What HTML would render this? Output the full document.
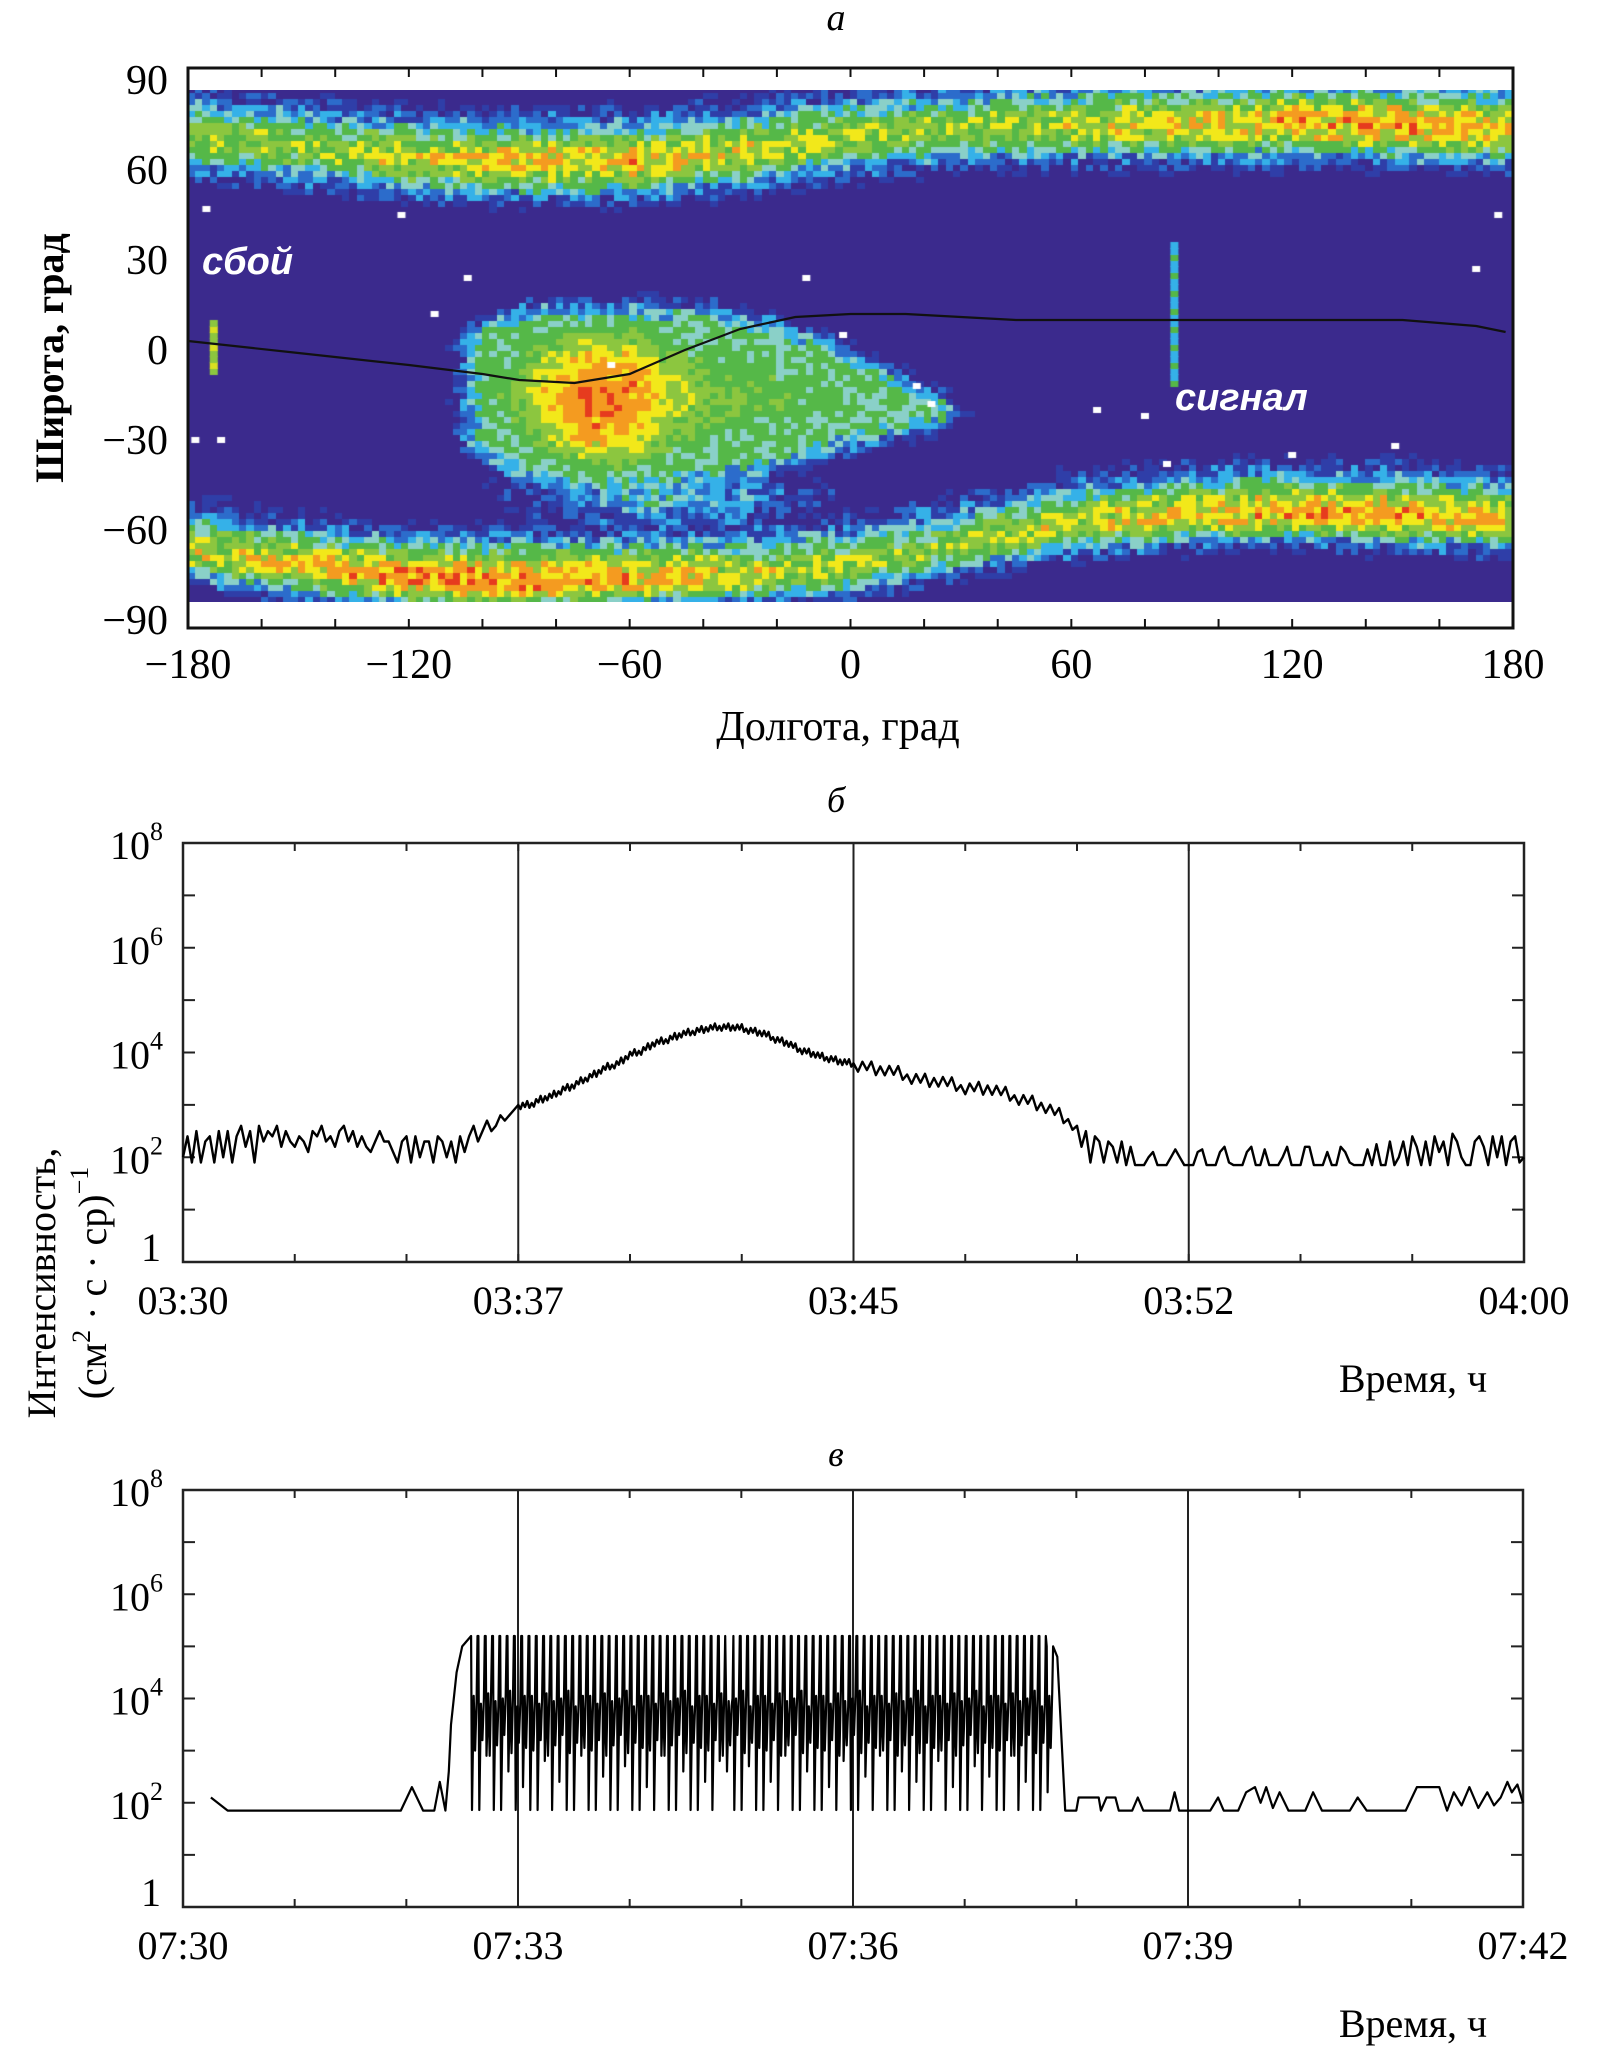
<!DOCTYPE html>
<html><head><meta charset="utf-8"><style>
html,body{margin:0;padding:0;background:#fff;}
#wrap{position:relative;width:1615px;height:2054px;overflow:hidden;}
#heat{position:absolute;left:0;top:0;}
#svg{position:absolute;left:0;top:0;}
</style></head><body>
<div id="wrap">
<canvas id="heat" width="1615" height="700"></canvas>
<svg id="svg" width="1615" height="2054" xmlns="http://www.w3.org/2000/svg"></svg>
</div>
<script>
// ---------- Panel a data ----------
const lonKnots = [-180,-150,-120,-90,-60,-30,0,30,60,90,120,150,180];
const northCenter = [71,68,64,63,63,66,71,74,75,75,76,75,74];
const northPeak = [0.64,0.58,0.68,0.72,0.76,0.68,0.6,0.62,0.66,0.72,0.76,0.8,0.74];
const southCenter = [-67,-72,-76,-77,-76,-75,-72,-65,-58,-55,-54,-55,-57];
const southPeak = [0.66,0.72,0.82,0.84,0.78,0.68,0.6,0.58,0.66,0.74,0.78,0.78,0.74];
const saaLon = [-100,-92,-84,-72,-60,-48,-36,-24,-12,-2,8,16,24];
const saaTop = [4,8,10,10,10,10,9,6,1,-4,-9,-15,-20];
const saaBot = [-30,-36,-40,-42,-42,-41,-39,-36,-32,-28,-25,-22,-20];
const saaLevel = [0.46,0.54,0.7,0.86,0.84,0.64,0.56,0.53,0.5,0.46,0.42,0.4,0.36];
const plume = [-50,-48,40,12,0.36];
const trackLon = [-180,-150,-120,-100,-90,-75,-60,-45,-30,-15,0,15,45,60,90,150,170,178];
const trackLat = [3,-1,-5,-8,-10,-11,-8,0,7,11,12,12,10,10,10,10,8,6];
const glitchA = [-173,-8,10];
const glitchB = [88,-12,35];
const whiteDotsLon = [-175,-122,-104,-113,-65,-12,18,-2,22,67,80,86,120,148,170,176,-178,-171];
const whiteDotsLat = [47,45,24,12,-5,24,-12,5,-18,-20,-22,-38,-35,-32,27,45,-30,-30];
const latTicks = [90,60,30,0,-30,-60,-90];
const latTickLabels = ["90","60","30","0","\u221230","\u221260","\u221290"];
const lonTicks = [-180,-120,-60,0,60,120,180];
const lonTickLabels = ["\u2212180","\u2212120","\u221260","0","60","120","180"];

// ---------- Panel b data ----------
const bNoiseA = [2.0,2.4,1.9,2.5,1.9,2.3,2.4,1.9,2.5,2.0,
2.5,1.9,2.4,2.6,2.2,2.5,1.9,2.6,2.3,2.5,
2.4,2.6,2.2,2.5,2.3,2.2,2.4,2.3,2.1,2.5,
2.4,2.6,2.3,2.4,2.2,2.5,2.6,2.3,2.5,2.2,
2.4,2.2,2.1,2.3,2.5,2.3,2.3,2.1,1.9,2.3,
2.4,1.9,2.4,2.0,2.3,2.3,1.9,2.4,2.3,2.0,
2.3,1.9,2.4,2.1,2.4,2.6,2.3,2.5,2.7,2.5,
2.6,2.8,2.7,2.8,2.9];
const bSmoothT = [7.5,7.75,8,8.25,8.5,8.75,9,9.25,9.5,9.75,10,10.25,10.5,10.75,11,11.25,11.5,11.75,12,12.25,12.5,12.75,13,13.25,13.5,13.75,14,14.25,14.5,14.75,15,15.5,16,16.5,17,17.5,18,18.5,19,19.5,20];
const bSmoothV = [2.96,3.0,3.1,3.16,3.3,3.36,3.5,3.6,3.72,3.8,3.95,4.03,4.15,4.22,4.3,4.36,4.42,4.45,4.49,4.48,4.46,4.41,4.35,4.26,4.18,4.07,4.0,3.92,3.88,3.81,3.78,3.68,3.6,3.48,3.42,3.33,3.3,3.18,3.05,2.85,2.6];
const bTail = [2.6,2.2,2.5,1.9,2.4,2.3,1.9,2.3,2.2,1.9,
2.3,1.85,2.2,1.85,1.85,1.85,2.0,2.1,1.85,1.85,
1.85,2.0,2.15,2.0,1.85,1.85,1.85,2.1,2.15,1.85,
1.85,1.85,2.1,2.2,1.9,1.85,1.85,1.85,2.1,2.2,
1.85,1.85,2.15,1.85,1.85,1.85,2.0,2.2,1.85,1.85,
1.85,2.2,2.2,1.85,1.85,1.85,2.1,1.85,1.85,2.2,
2.1,1.9,1.85,1.85,1.85,2.15,1.85,2.25,1.85,1.85,
2.3,1.85,2.0,2.3,1.85,2.4,2.2,1.85,2.3,1.85,
2.4,2.1,2.3,1.85,2.45,2.3,2.0,1.85,1.85,2.3,
2.4,2.2,1.85,2.4,2.0,2.4,1.85,2.3,2.4,1.9,2.0];
const bJitter = [0.05,-0.06,0.08,-0.03,0.1,-0.07,0.02,-0.09,0.06,-0.04,0.09,-0.08];
const bTickLabels = ["03:30","03:37","03:45","03:52","04:00"];

// ---------- Panel c data ----------
const cPreT = [0.25,0.4,1.95,2.05,2.15,2.25,2.3,2.35,2.38,2.4,2.45,2.5,2.58];
const cPreV = [2.1,1.85,1.85,2.3,1.85,1.85,2.4,1.85,2.6,3.5,4.5,5.0,5.2];
const cSpikeStart = 2.58, cSpikeEnd = 7.8;
const cPeaks = [5.2,5.2,5.2,5.2,5.2,5.2,5.2,5.2,5.2,5.2,5.2,5.2,5.2,5.2,5.2,5.2,5.2,5.2,5.2,5.2,
5.2,5.2,5.2,5.2,5.2,5.2,5.2,5.2,5.2,5.2,5.2,5.2,5.2,5.2,5.2,4.0,5.2,5.2,5.2,5.2,
5.2,5.2,5.2,5.2,5.2,5.2,5.2,5.2,5.2,5.2,5.2,5.2,5.2,5.2,5.2,5.2,5.2,5.2,5.2,5.2,
5.2,5.2,5.2,5.2,5.2,5.2,5.2,5.2,5.2,5.2,5.2,5.2,5.2,5.2,5.2,5.2,5.2,5.2,5.2,5.0];
const cTroughs = [1.86,1.86,2.9,1.86,1.86,2.6,1.86,2.3,1.86,1.86,2.8,1.86,2.4,1.86,1.86,2.9,1.86,1.86,2.5,1.86,
1.86,2.7,1.86,1.86,2.3,1.86,2.9,1.86,1.86,2.6,1.86,1.86,2.4,1.86,2.8,2.6,1.86,1.86,2.7,1.86,
1.86,2.4,1.86,2.9,1.86,1.86,2.6,1.86,1.86,2.3,1.86,2.8,1.86,1.86,2.5,1.86,2.9,1.86,1.86,2.6,
1.86,2.4,1.86,1.86,2.8,1.86,2.3,1.86,1.86,2.7,1.86,2.5,1.86,1.86,2.9,1.86,2.4,1.86,1.86,2.2];
const cMidHi = [4.05,3.9,4.1,3.95,4.0,4.15,3.85,4.05];
const cMidLo = [3.0,3.2,2.9,3.1,3.3,2.95,3.15,3.05];
const cPostT = [7.83,7.9,8.0,8.02,8.2,8.22,8.27,8.35,8.38,8.5,8.55,8.6,8.84,8.88,8.92,9.2,9.27,9.32,9.45,9.52,9.6,9.65,9.7,9.76,9.82,9.9,10.05,10.12,10.2,10.45,10.52,10.6,10.95,11.05,11.25,11.32,11.38,11.45,11.52,11.6,11.68,11.74,11.8,11.86,11.9,11.95,12.0];
const cPostV = [4.8,1.85,1.85,2.1,2.1,1.85,2.1,2.1,1.85,1.85,2.1,1.85,1.85,2.2,1.85,1.85,2.1,1.85,1.85,2.2,2.3,2.0,2.3,1.9,2.2,1.85,1.85,2.2,1.85,1.85,2.1,1.85,1.85,2.3,2.3,1.85,2.2,1.95,2.3,1.9,2.2,1.95,2.1,2.4,2.2,2.35,2.0];
const cTickLabels = ["07:30","07:33","07:36","07:39","07:42"];
const logTickLabels = ["8","6","4","2"];

// ---------- geometry ----------
const SERIF='"Liberation Serif", "DejaVu Serif", serif';
const A = {x0:188,x1:1513,y0:68,y1:628};
const lonX = lon => A.x0 + (lon+180)*(A.x1-A.x0)/360;
const latY = lat => 350 - 3*lat;
const B = {x0:183,x1:1524,y0:843,y1:1262,tmax:30};
const C = {x0:183,x1:1523,y0:1490,y1:1907,tmax:12};
const tX = (P,t) => P.x0 + t*(P.x1-P.x0)/P.tmax;
const lY = (P,v) => P.y1 - v*(P.y1-P.y0)/8;

function interp(knots, vals, x){
  for(let i=0;i<knots.length-1;i++){
    if(x<=knots[i+1]){const f=(x-knots[i])/(knots[i+1]-knots[i]);return vals[i]+f*(vals[i+1]-vals[i]);}
  }
  return vals[vals.length-1];
}
function gauss(p,lon,lat){return p[4]*Math.exp(-Math.pow((lon-p[0])/p[2],2)-Math.pow((lat-p[1])/p[3],2));}
function saa(lon,lat){
  const L0=saaLon[0], L1=saaLon[saaLon.length-1];
  let ldist=0;
  if(lon<L0) ldist=L0-lon; else if(lon>L1) ldist=lon-L1;
  const cl=Math.max(L0,Math.min(L1,lon));
  const top=interp(saaLon,saaTop,cl), bot=interp(saaLon,saaBot,cl), lev=interp(saaLon,saaLevel,cl);
  const mid=(top+bot)/2, hw=Math.max(1,(top-bot)/2);
  const d=Math.abs(lat-mid)/hw;
  if(d<=1 && ldist===0) return {v:Math.max(0.46,lev*(1-0.5*d*d)), inside:true};
  const out=Math.max(0,(Math.abs(lat-mid)-hw))+ldist;
  return {v:0.4*Math.exp(-Math.pow(out/7,2)), inside:false};
}
function field(lon,lat){
  let v=0.04, s=false;
  const nc=interp(lonKnots,northCenter,lon), np=interp(lonKnots,northPeak,lon);
  const dn=lat-nc;
  v=Math.max(v, np*Math.exp(-Math.pow(dn/(dn<0?11:13),2)));
  const sc=interp(lonKnots,southCenter,lon), sp=interp(lonKnots,southPeak,lon);
  const ds=lat-sc;
  v=Math.max(v, sp*Math.exp(-Math.pow(ds/(ds>0?13:9),2)));
  const r=saa(lon,lat);
  if(r.v>v){v=r.v; s=r.inside;}
  v=Math.max(v,gauss(plume,lon,lat));
  return {v:v,s:s};
}
const cmapT=[0.12,0.2,0.28,0.36,0.44,0.56,0.66,0.76,0.87,9];
const cmapC=["#3b2a8d","#2f3ea8","#2c6ccb","#35b1e8","#8ad0c8","#55b848","#8cc63f","#f2e81a","#f49b20","#e63b1e"];
function col(v){for(let i=0;i<cmapT.length;i++) if(v<cmapT[i]) return cmapC[i]; return cmapC[cmapC.length-1];}
function tex(i,j){const s=Math.sin(i*12.9898+j*78.233)*43758.5453;return s-Math.floor(s);}

const ctx=document.getElementById('heat').getContext('2d');
let ci=0;
for(let lon=-180;lon<180;lon+=2,ci++){
  let cj=0;
  for(let lat=-84;lat<86.7;lat+=2,cj++){
    const f=field(lon+1,lat+1);
    let v=f.v;
    v += (tex(ci,cj)-0.5)*(f.s?0.14:(v>0.1?0.26:0.12));
    ctx.fillStyle=col(v);
    const x=lonX(lon), y=latY(Math.min(lat+2,86.7));
    ctx.fillRect(Math.floor(x),Math.floor(y),Math.ceil(lonX(lon+2)-x)+1,Math.ceil(latY(lat)-y)+1);
  }
}
function vbar(g,c1,c2){
  for(let lat=g[1];lat<g[2];lat+=2){
    ctx.fillStyle=(lat%6===0)?c1:c2;
    ctx.fillRect(lonX(g[0])-4,latY(lat+2),8,7);
  }
}
vbar(glitchA,"#d8e020","#8cc63f");
vbar(glitchB,"#55b848","#35b1e8");
ctx.fillStyle="#fff";
for(let i=0;i<whiteDotsLon.length;i++) ctx.fillRect(lonX(whiteDotsLon[i])-4,latY(whiteDotsLat[i])-3,8,6);

// ---------- SVG ----------
const svg=document.getElementById('svg');
const NS="http://www.w3.org/2000/svg";
function mk(tag,attrs,parent){const e=document.createElementNS(NS,tag);for(const k in attrs)e.setAttribute(k,attrs[k]);(parent||svg).appendChild(e);return e;}
function txt(s,x,y,size,anchor,parent,extra){const e=mk('text',Object.assign({x:x,y:y,'font-size':size,'text-anchor':anchor||'middle','font-family':SERIF,fill:'#000'},extra||{}),parent);e.textContent=s;return e;}

const ga=mk('g',{});


const ta=txt('а',836,30,38,'middle',ga,{'font-style':'italic'});


mk('rect',{x:A.x0,y:A.y0,width:A.x1-A.x0,height:22,fill:'#fff'},ga);
mk('rect',{x:A.x0,y:602,width:A.x1-A.x0,height:A.y1-602,fill:'#fff'},ga);
let tp='';
for(let i=0;i<trackLon.length;i++) tp+=(i?'L':'M')+lonX(trackLon[i]).toFixed(1)+' '+latY(trackLat[i]).toFixed(1);
const track=mk('path',{d:tp,fill:'none',stroke:'#111',"stroke-width":2.2},ga);


const box=mk('rect',{x:A.x0,y:A.y0,width:A.x1-A.x0,height:A.y1-A.y0,fill:'none',stroke:'#111',"stroke-width":3},ga);


for(let lon=-160;lon<180;lon+=20){
  mk('line',{x1:lonX(lon),x2:lonX(lon),y1:A.y0,y2:A.y0+9,stroke:'#111',"stroke-width":2},ga);
  mk('line',{x1:lonX(lon),x2:lonX(lon),y1:A.y1,y2:A.y1-9,stroke:'#111',"stroke-width":2},ga);
}
for(let i=0;i<latTicks.length;i++){
  const t=txt(latTickLabels[i],168,latY(latTicks[i])+14,42,'end',ga);
  
  
}
for(let i=0;i<lonTicks.length;i++){
  const t=txt(lonTickLabels[i],lonX(lonTicks[i]),678,42,'middle',ga);
  
  
}
const xa=txt('Долгота, град',838,740,42,'middle',ga);


const ya=txt('Широта, град',0,0,40,'middle',ga,{transform:'translate(63,358) rotate(-90)','font-weight':'bold'});


const l1=txt('сбой',202,274,38,'start',ga,{'font-family':'"Liberation Sans",sans-serif','font-weight':'bold','font-style':'italic',fill:'#ffffff'});


const l2=txt('сигнал',1175,410,38,'start',ga,{'font-family':'"Liberation Sans",sans-serif','font-weight':'bold','font-style':'italic',fill:'#ffffff'});



function logPanel(P,name,labels,minorStep){
  const g=mk('g',{});
  
  
  const fr=mk('rect',{x:P.x0,y:P.y0,width:P.x1-P.x0,height:P.y1-P.y0,fill:'none',stroke:'#222',"stroke-width":2.5},g);
  
  
  for(let d=1;d<8;d++){
    const y=lY(P,d);
    mk('line',{x1:P.x0,x2:P.x0+12,y1:y,y2:y,stroke:'#222',"stroke-width":2},g);
    mk('line',{x1:P.x1,x2:P.x1-12,y1:y,y2:y,stroke:'#222',"stroke-width":2},g);
  }
  for(let t=minorStep;t<P.tmax-1e-6;t+=minorStep){
    const x=tX(P,t);
    mk('line',{x1:x,x2:x,y1:P.y0,y2:P.y0+8,stroke:'#222',"stroke-width":2},g);
    mk('line',{x1:x,x2:x,y1:P.y1,y2:P.y1-8,stroke:'#222',"stroke-width":2},g);
  }
  for(let q=1;q<4;q++){
    const x=tX(P,P.tmax*q/4);
    const gl=mk('line',{x1:x,x2:x,y1:P.y0,y2:P.y1,stroke:'#222',"stroke-width":2},g);
    
    
  }
  for(let i=0;i<logTickLabels.length;i++){
    const d=+logTickLabels[i];
    const t=mk('text',{x:P.x0-20,y:lY(P,d)+16,'font-size':40,'text-anchor':'end','font-family':SERIF,fill:'#000'},g);
    
    
    t.textContent='10';
    const s=mk('tspan',{dy:-19,'font-size':26},t);s.textContent=logTickLabels[i];
  }
  const one=txt('1',P.x0-22,P.y1-1,40,'end',g);
  
  
  for(let i=0;i<labels.length;i++){
    const t=txt(labels[i],tX(P,P.tmax*i/4),P.y1+52,40,'middle',g);
    
    
  }
  const xt=txt('Время, ч',1413,P.y1+130,40,'middle',g);
  
  
  return g;
}
const gb=logPanel(B,'panel-b',bTickLabels,2.5);
const tb=txt('б',836,812,36,'middle',gb,{'font-style':'italic'});


const gc=logPanel(C,'panel-c',cTickLabels,1);
const tc=txt('в',836,1466,36,'middle',gc,{'font-style':'italic'});



let pb='';
let first=true;
function add(P,t,v){pb+=(first?'M':'L')+tX(P,t).toFixed(1)+' '+lY(P,v).toFixed(1);first=false;}
for(let i=0;i<bNoiseA.length;i++) add(B,i*0.1,bNoiseA[i]);
for(let i=0;i<bSmoothT.length-1;i++){
  for(let k=0;k<5;k++){
    const f=k/5;
    const t=bSmoothT[i]+f*(bSmoothT[i+1]-bSmoothT[i]);
    const v=bSmoothV[i]+f*(bSmoothV[i+1]-bSmoothV[i]);
    add(B,t,v+bJitter[(i*5+k)%bJitter.length]*(t>15?1.4:0.8));
  }
}
for(let i=0;i<bTail.length;i++) add(B,20+i*0.1,bTail[i]);
const lb=mk('path',{d:pb,fill:'none',stroke:'#000',"stroke-width":2.4,"stroke-linejoin":"round"},gb);



pb='';first=true;
for(let i=0;i<cPreT.length;i++) add(C,cPreT[i],cPreV[i]);
const per=(cSpikeEnd-cSpikeStart)/cPeaks.length;
for(let i=0;i<cPeaks.length;i++){
  const t0=cSpikeStart+i*per;
  add(C,t0,cPeaks[i]);
  add(C,t0+0.12*per,cTroughs[i]);
  add(C,t0+0.35*per,cMidHi[i%cMidHi.length]);
  add(C,t0+0.55*per,cMidLo[i%cMidLo.length]);
  add(C,t0+0.75*per,cMidHi[(i+3)%cMidHi.length]);
  add(C,t0+0.88*per,cPeaks[i]);
}
for(let i=0;i<cPostT.length;i++) add(C,cPostT[i],cPostV[i]);
const lc=mk('path',{d:pb,fill:'none',stroke:'#000',"stroke-width":2.2,"stroke-linejoin":"round"},gc);



const yt=mk('g',{transform:'translate(0,1283)'});


txt('Интенсивность,',0,0,40,'middle',yt,{transform:'translate(55,0) rotate(-90)'});
const t2=mk('text',{'font-size':40,'text-anchor':'middle','font-family':SERIF,fill:'#000',transform:'translate(106,0) rotate(-90)'},yt);
t2.innerHTML='(см<tspan dy="-16" font-size="26">2</tspan><tspan dy="16"> · с · ср)</tspan><tspan dy="-18" font-size="26">−1</tspan>';
</script>
</body></html>
